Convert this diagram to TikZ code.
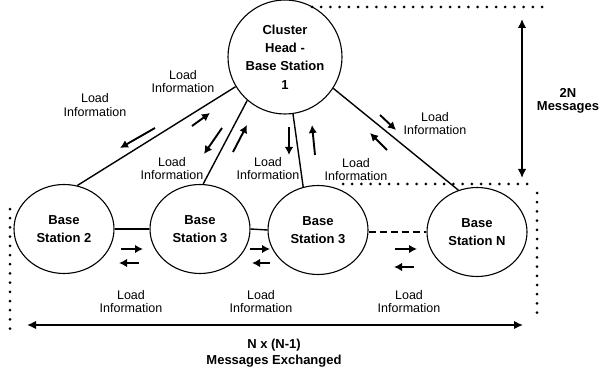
\documentclass[tikz,border=0pt]{standalone}
\usepackage{fontspec}
\setmainfont{Liberation Sans}
\usetikzlibrary{shapes.geometric,arrows.meta}
\tikzset{
  station/.style={draw,line width=1.1pt,ellipse,minimum width=100pt,minimum height=89pt,inner sep=0pt,align=center,font=\bfseries\fontsize{13}{18}\selectfont},
  head/.style={draw,line width=1.1pt,circle,minimum size=114pt,inner sep=0pt,align=center,font=\bfseries\fontsize{13}{18.3}\selectfont},
  lbl/.style={align=center,inner sep=0pt,font=\fontsize{12.5}{13.5}\selectfont},
  blbl/.style={align=center,inner sep=0pt,font=\bfseries\fontsize{13}{16.5}\selectfont},
  link/.style={line width=1.4pt},
  dlink/.style={line width=2.3pt,dash pattern=on 7pt off 4pt},
  small/.style={line width=1.9pt,-{Latex[length=8pt,width=8.5pt]}},
  big/.style={line width=1.6pt,{Latex[length=9pt,width=8.5pt]}-{Latex[length=9pt,width=8.5pt]}},
  dotline/.style={line width=3pt,line cap=round,dash pattern=on 0pt off 9.2pt}
}
\begin{document}
\begin{tikzpicture}[x=1pt,y=-1pt]
\useasboundingbox (0,0) rectangle (601,371);
% nodes
\node[head] (ch) at (285,57) {Cluster\\Head -\\Base Station\\1};
\node[station] (bs2) at (64,229) {Base\\Station 2};
\node[station] (bs3a) at (200,229) {Base\\Station 3};
\node[station] (bs3b) at (318,230) {Base\\Station 3};
\node[station] (bsn) at (477,232) {Base\\Station N};
% links
\draw[link] (ch.211) -- (bs2.73);
\draw[link] (ch.229) -- (bs3a.86);
\draw[link] (ch.278) -- (bs3b.109);
\draw[link] (ch.327) -- (bsn.114);
\draw[link] (bs2.east) -- (bs3a.west);
\draw[link] (bs3a.east) -- (bs3b.west);
\draw[dlink] (bsn.west -| bs3b.east) -- (bsn.west);
% small arrows
\draw[small] (155,128) -- (120,148);
\draw[small] (192,126) -- (210,113);
\draw[small] (222,128) -- (204,154);
\draw[small] (233,152) -- (247,125);
\draw[small] (289,127) -- (289,155);
\draw[small] (315,155) -- (312,125);
\draw[small] (380,115) -- (396,130);
\draw[small] (387,150) -- (370,133);
\draw[small] (121,249) -- (143,249);
\draw[small] (139,263) -- (119,263);
\draw[small] (250,249) -- (270,249);
\draw[small] (270,263) -- (252,263);
\draw[small] (395,249) -- (417,249);
\draw[small] (414,267) -- (394,267);
% labels
\node[lbl] (l1) at (95,105) {Load\\Information};
\node[lbl] (l2) at (183,81.5) {Load\\Information};
\node[lbl] (l3) at (172,168.5) {Load\\Information};
\node[lbl] (l4) at (268,168.5) {Load\\Information};
\node[lbl] (l5) at (435,123.5) {Load\\Information};
\node[lbl] (l6) at (356,169.5) {Load\\Information};
\node[lbl] (l7) at (131,301.5) {Load\\Information};
\node[lbl] (l8) at (261,301.5) {Load\\Information};
\node[lbl] (l9) at (409,301.5) {Load\\Information};
% dotted boundaries
\draw[dotline] (312,7) -- (551,7);
\draw[dotline] (343,184) -- (534,184);
\draw[dotline] (537,193) -- (537,321);
\draw[dotline] (10,209) -- (10,337);
% message counts
\coordinate (vt) at (522,19);
\coordinate (vb) at (522,178);
\coordinate (hl) at (27,325);
\coordinate (hr) at (523,325);
\draw[big] (vt) -- (vb);
\draw[big] (hl) -- (hr);
\node[blbl,font=\bfseries\fontsize{13}{13}\selectfont] (m2n) at (568,101) {2N\\Messages};
\node[blbl] (mnn) at (274,353) {N x (N-1)\\Messages Exchanged};
\end{tikzpicture}
\end{document}
